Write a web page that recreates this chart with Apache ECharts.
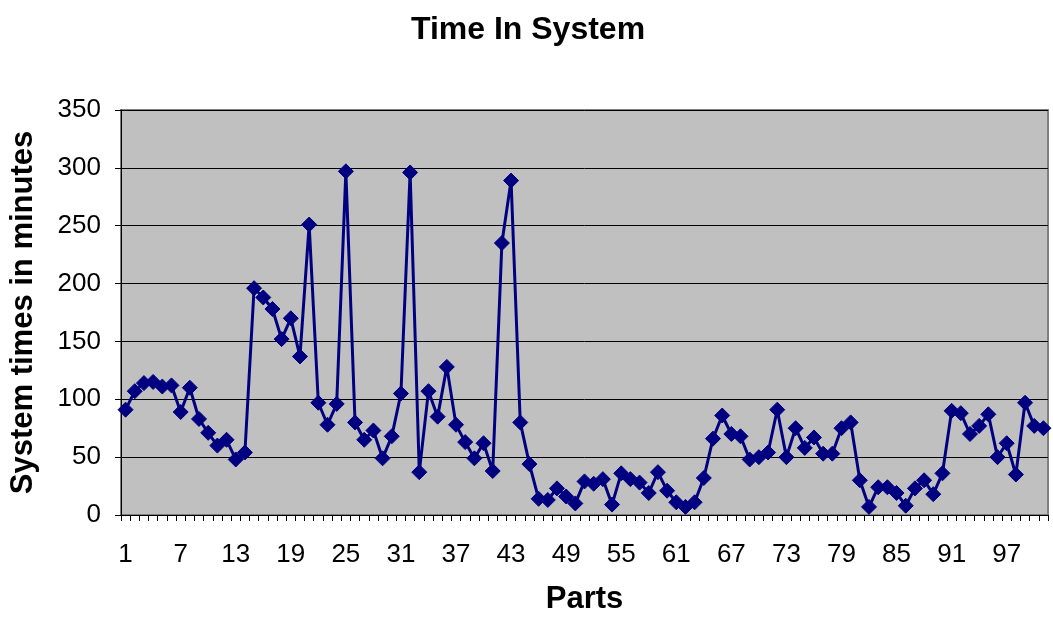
<!DOCTYPE html>
<html><head><meta charset="utf-8">
<script src="https://cdn.jsdelivr.net/npm/echarts@6/dist/echarts.min.js"></script>
<style>html,body{margin:0;padding:0;background:#fff;}#c{width:1053px;height:620px;}</style>
</head><body><div id="c"></div>
<script>
var parts = [];
for (var i = 1; i <= 101; i++) parts.push(String(i));
var systemTimes = [
  91, 107, 114, 115, 111, 112, 89, 110, 83, 71,
  60, 65, 48, 54, 196, 188, 178, 152, 170, 137,
  251, 97, 78, 96, 297, 80, 65, 73, 49, 68,
  105, 296, 37, 107, 85, 128, 78, 63, 49, 62,
  38, 235, 289, 80, 44, 14, 13, 23, 16, 10,
  29, 27, 31, 9, 36, 31, 28, 19, 37, 21,
  11, 7, 11, 32, 66, 86, 70, 68, 48, 50,
  54, 91, 50, 75, 58, 67, 53, 53, 75, 80,
  30, 7, 24, 24, 19, 8, 23, 30, 18, 36,
  90, 88, 70, 77, 87, 50, 62, 35, 97, 77, 75
];
var yTicks = [0, 50, 100, 150, 200, 250, 300, 350];

var chart = echarts.init(document.getElementById('c'));
chart.setOption({
  animation: false,
  backgroundColor: '#ffffff',
  title: {
    text: 'Time In System', left: 523, top: 9, textAlign: 'center',
    textStyle: { fontFamily: 'Liberation Sans', fontWeight: 'bold', fontSize: 32, color: '#000' }
  },
  grid: {
    left: 121, right: 5, top: 110, bottom: 105,
    show: true, backgroundColor: '#c0c0c0', borderColor: '#808080', borderWidth: 2
  },
  xAxis: {
    type: 'category', data: parts, boundaryGap: true,
    name: 'Parts', nameLocation: 'middle', nameGap: 69,
    nameTextStyle: { fontFamily: 'Liberation Sans', fontWeight: 'bold', fontSize: 31, color: '#000' },
    axisLine: { lineStyle: { color: '#000', width: 1 } },
    axisTick: { show: true, interval: 0, length: 6, lineStyle: { color: '#000' } },
    axisLabel: { interval: 5, fontFamily: 'Liberation Sans', fontSize: 26, color: '#000', margin: 27 },
    splitLine: { show: false }
  },
  yAxis: {
    type: 'value', min: yTicks[0], max: yTicks[yTicks.length - 1], interval: 50,
    name: 'System times in minutes', nameLocation: 'middle', nameGap: 82,
    nameTextStyle: { fontFamily: 'Liberation Sans', fontWeight: 'bold', fontSize: 31, color: '#000' },
    axisLine: { show: true, lineStyle: { color: '#000', width: 1 } },
    axisTick: { show: true, length: 6, lineStyle: { color: '#000' } },
    axisLabel: { fontFamily: 'Liberation Sans', fontSize: 26, color: '#000', margin: 20 },
    splitLine: { show: true, lineStyle: { color: '#000', width: 1 } }
  },
  series: [{
    type: 'line', data: systemTimes,
    symbol: 'diamond', symbolSize: 15, showAllSymbol: true,
    lineStyle: { color: '#000080', width: 3 },
    itemStyle: { color: '#000080', borderColor: '#000080' }
  }]
});
</script></body></html>
